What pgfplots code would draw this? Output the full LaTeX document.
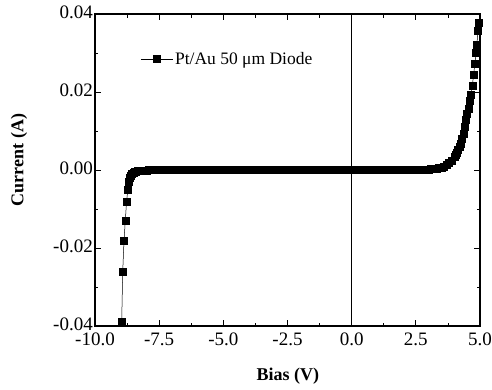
\documentclass[border=0pt]{standalone}
\usepackage{fontspec}
\setmainfont{Liberation Serif}
\usepackage{pgfplots}
\pgfplotsset{compat=1.18}
\begin{document}
\begin{tikzpicture}
\useasboundingbox (-95pt,-63pt) rectangle (397pt,326pt);
\begin{axis}[
  scale only axis,
  width=385pt, height=312pt,
  xmin=-10, xmax=5, ymin=-0.04, ymax=0.04,
  xtick={-10,-7.5,-5,-2.5,0,2.5,5},
  ytick={-0.04,-0.02,0,0.02,0.04},
  minor x tick num=1, minor y tick num=1,
  tick pos=both, tick align=inside,
  major tick length=6pt, minor tick length=3.5pt,
  every tick/.style={black, line width=0.8pt},
  axis line style={black, line width=1.2pt},
  scaled y ticks=false, scaled x ticks=false,
  /pgf/number format/assume math mode=true,
  xticklabel style={font=\fontsize{19}{22}\selectfont, inner sep=1pt, yshift=-6pt, /pgf/number format/.cd, fixed, fixed zerofill, precision=1},
  yticklabel style={font=\fontsize{19}{22}\selectfont, inner sep=2pt, yshift=2pt, /pgf/number format/.cd, fixed, fixed zerofill, precision=2},
  xlabel={Bias (V)},
  ylabel={Current (A)},
  xlabel style={font=\fontsize{18}{21}\selectfont\bfseries, at={(axis description cs:0.501,-0.16)}, anchor=center},
  ylabel style={font=\fontsize{18}{21}\selectfont\bfseries, at={(axis description cs:-0.197,0.532)}, anchor=center},
  legend cell align=left,
  legend style={draw=none, fill=none, at={(axis description cs:0.118,0.856)}, anchor=west, inner sep=0pt, font=\fontsize{17.5}{20}\selectfont},
  legend image code/.code={\draw[mark repeat=2, mark phase=2, #1] plot coordinates {(0pt,0pt) (16pt,0pt) (32pt,0pt)};},
]
\addplot[black, line width=0.5pt, forget plot] coordinates {(0,-0.04) (0,0.04)};
\addplot[black, line width=0.5pt, mark=square*, mark size=3.5pt, mark options={solid, fill=black}] coordinates {
(-8.98,-0.0420) (-8.96,-0.0389) (-8.92,-0.0261) (-8.87,-0.0181) (-8.82,-0.0130) (-8.77,-0.0081)
(-8.72,-0.0050) (-8.68,-0.0030) (-8.64,-0.0020) (-8.60,-0.0014) (-8.55,-0.0010) (-8.50,-0.0007)
(-8.45,-0.0005) (-8.40,-0.0004) (-8.35,-0.0003) (-8.30,-0.0002) (-8.2,-0.00015) (-8.1,-0.0001)
(-8.0,-0.00007) (-7.9,-0.00005) (-7.8,-0.00003) (-7.7,-0.00002) (-7.6,-0.00001)
(-7.5,0) (-7.4,0) (-7.3,0) (-7.2,0) (-7.1,0) (-7.0,0) (-6.9,0) (-6.8,0) (-6.7,0) (-6.6,0)
(-6.5,0) (-6.4,0) (-6.3,0) (-6.2,0) (-6.1,0) (-6.0,0) (-5.9,0) (-5.8,0) (-5.7,0) (-5.6,0)
(-5.5,0) (-5.4,0) (-5.3,0) (-5.2,0) (-5.1,0) (-5.0,0) (-4.9,0) (-4.8,0) (-4.7,0) (-4.6,0)
(-4.5,0) (-4.4,0) (-4.3,0) (-4.2,0) (-4.1,0) (-4.0,0) (-3.9,0) (-3.8,0) (-3.7,0) (-3.6,0)
(-3.5,0) (-3.4,0) (-3.3,0) (-3.2,0) (-3.1,0) (-3.0,0) (-2.9,0) (-2.8,0) (-2.7,0) (-2.6,0)
(-2.5,0) (-2.4,0) (-2.3,0) (-2.2,0) (-2.1,0) (-2.0,0) (-1.9,0) (-1.8,0) (-1.7,0) (-1.6,0)
(-1.5,0) (-1.4,0) (-1.3,0) (-1.2,0) (-1.1,0) (-1.0,0) (-0.9,0) (-0.8,0) (-0.7,0) (-0.6,0)
(-0.5,0) (-0.4,0) (-0.3,0) (-0.2,0) (-0.1,0) (0.0,0) (0.1,0) (0.2,0) (0.3,0) (0.4,0)
(0.5,0) (0.6,0) (0.7,0) (0.8,0) (0.9,0) (1.0,0) (1.1,0) (1.2,0) (1.3,0) (1.4,0)
(1.5,0) (1.6,0) (1.7,0) (1.8,0) (1.9,0) (2.0,0) (2.1,0) (2.2,0) (2.3,0) (2.4,0)
(2.5,0) (2.6,0) (2.7,0.00002) (2.8,0.00005) (2.9,0.0001) (3.0,0.00015) (3.1,0.0002)
(3.2,0.0003) (3.3,0.0004) (3.4,0.0005) (3.5,0.0007) (3.6,0.0009) (3.7,0.0013) (3.8,0.0019)
(3.9,0.0025) (4.0,0.0033) (4.05,0.0038) (4.1,0.0045) (4.15,0.0052) (4.2,0.0060) (4.25,0.0068)
(4.3,0.0079) (4.35,0.0092) (4.4,0.0112) (4.45,0.0128) (4.5,0.0143) (4.55,0.0158) (4.6,0.0178)
(4.65,0.0193) (4.7,0.0216) (4.75,0.0244) (4.8,0.0272) (4.85,0.0300) (4.88,0.0322) (4.92,0.0358)
(4.94,0.0378)
};
\addlegendentry{Pt/Au 50 μm Diode}
\end{axis}
\end{tikzpicture}
\end{document}
